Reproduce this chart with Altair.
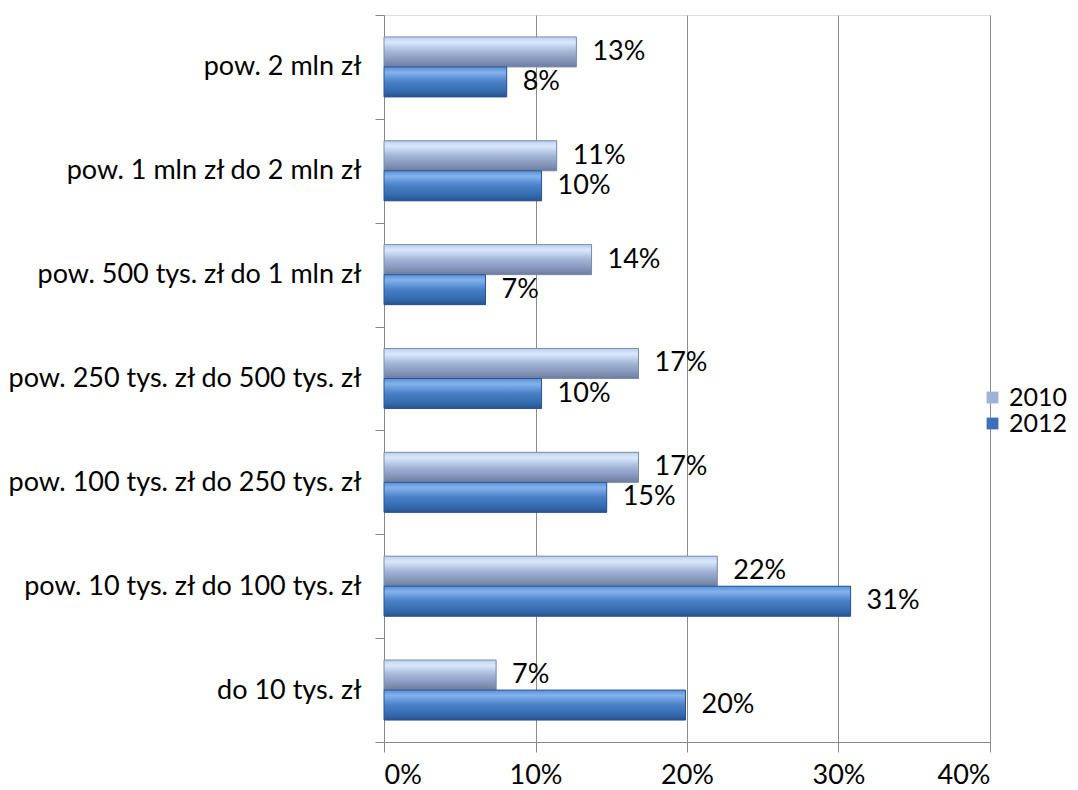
import altair as alt
import pandas as pd

categories = [
    "pow. 2 mln zł",
    "pow. 1 mln zł do 2 mln zł",
    "pow. 500 tys. zł do 1 mln zł",
    "pow. 250 tys. zł do 500 tys. zł",
    "pow. 100 tys. zł do 250 tys. zł",
    "pow. 10 tys. zł do 100 tys. zł",
    "do 10 tys. zł",
]
series = ["2010", "2012"]
values_2010 = [0.127, 0.114, 0.137, 0.168, 0.168, 0.220, 0.074]
values_2012 = [0.081, 0.104, 0.067, 0.104, 0.147, 0.308, 0.199]
x_ticks = [0, 0.1, 0.2, 0.3, 0.4]

rows = []
for c, a, b in zip(categories, values_2010, values_2012):
    rows.append({"cat": c, "series": "2010", "value": a})
    rows.append({"cat": c, "series": "2012", "value": b})
df = pd.DataFrame(rows)

FONT = "Lato"
FS = 27

y_enc = alt.Y(
    "cat:N",
    sort=categories,
    title=None,
    scale=alt.Scale(paddingInner=0, paddingOuter=0),
    axis=alt.Axis(
        tickBand="extent",
        domainColor="#888888",
        tickColor="#888888",
        tickSize=9,
        labelPadding=14,
        labelFontSize=FS,
        labelFont=FONT,
        labelColor="#000000",
        labelLimit=400,
    ),
)
x_enc = alt.X(
    "value:Q",
    title=None,
    scale=alt.Scale(domain=[0, 0.4], nice=False),
    axis=alt.Axis(
        values=x_ticks,
        format=".0%",
        grid=True,
        gridColor="#8c8c8c",
        domainColor="#888888",
        tickColor="#888888",
        tickSize=10,
        labelPadding=10,
        labelFontSize=FS,
        labelFont=FONT,
        labelColor="#000000",
    ),
)
yoff = alt.YOffset(
    "series:N",
    scale=alt.Scale(domain=series, paddingInner=0, paddingOuter=0.73),
    sort=series,
)

base = alt.Chart(df).encode(x=x_enc, y=y_enc, yOffset=yoff)

flat = base.mark_bar().encode(
    color=alt.Color(
        "series:N",
        scale=alt.Scale(domain=series, range=["#9fb3d8", "#3f70b5"]),
        legend=alt.Legend(
            title=None,
            orient="none",
            legendX=596,
            legendY=370,
            symbolType="square",
            symbolSize=140,
            symbolStrokeWidth=0,
            labelFontSize=25,
            labelFont=FONT,
            labelColor="#000000",
            labelOffset=4,
            rowPadding=-2,
        ),
    )
)

grad2010 = alt.Gradient(
    gradient="linear", x1=0, y1=0, x2=0, y2=1,
    stops=[
        alt.GradientStop(color="#bccfeb", offset=0),
        alt.GradientStop(color="#d9e8fb", offset=0.18),
        alt.GradientStop(color="#a2b5d7", offset=0.5),
        alt.GradientStop(color="#8292b6", offset=0.82),
        alt.GradientStop(color="#6b7ca0", offset=1),
    ],
)
grad2012 = alt.Gradient(
    gradient="linear", x1=0, y1=0, x2=0, y2=1,
    stops=[
        alt.GradientStop(color="#5a8fd6", offset=0),
        alt.GradientStop(color="#82b3ee", offset=0.18),
        alt.GradientStop(color="#4a7fc6", offset=0.5),
        alt.GradientStop(color="#336aae", offset=0.82),
        alt.GradientStop(color="#28528e", offset=1),
    ],
)

g1 = base.transform_filter(alt.datum.series == "2010").mark_bar(
    fill=grad2010, stroke="#7a8cab", strokeWidth=1
)
g2 = base.transform_filter(alt.datum.series == "2012").mark_bar(
    fill=grad2012, stroke="#2c558f", strokeWidth=1
)

labels = base.mark_text(
    align="left", baseline="middle", dx=16, fontSize=FS, font=FONT, color="#000000"
).encode(text=alt.Text("value:Q", format=".0%"))

chart = (
    alt.layer(flat, g1, g2, labels)
    .properties(
        width=606,
        height=727,
        autosize=alt.AutoSizeParams(type="none"),
        padding={"left": 376, "top": 7, "right": 80, "bottom": 50},
    )
    .configure_view(stroke=None)
    .configure(background="#ffffff")
)

chart.save("out.html", embed_options={"renderer": "svg", "actions": False})
